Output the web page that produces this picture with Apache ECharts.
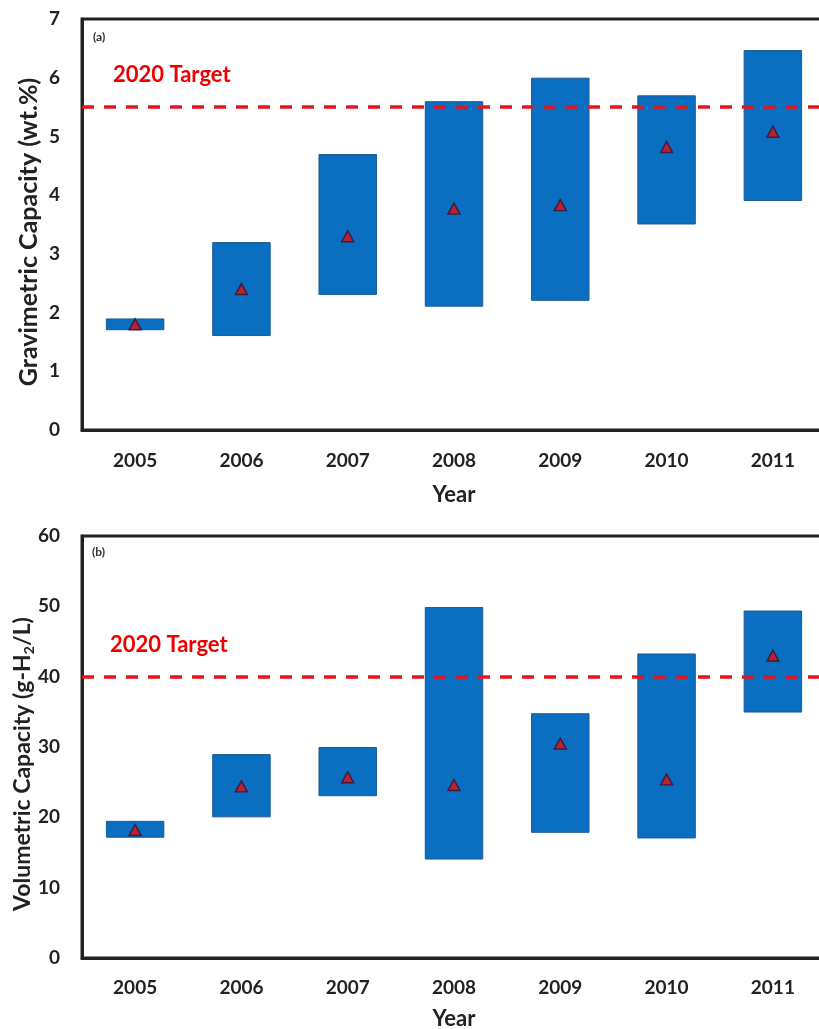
<!DOCTYPE html>
<html><head><meta charset="utf-8">
<script src="https://cdn.jsdelivr.net/npm/echarts@6/dist/echarts.min.js"></script>
<style>html,body{margin:0;padding:0;background:#fff}#c{width:819px;height:1029px}</style>
</head><body><div id="c"></div>
<script>
const years = ['2005','2006','2007','2008','2009','2010','2011'];
const gravLow  = [1.7, 1.6, 2.3, 2.1, 2.2, 3.5, 3.9];
const gravHigh = [1.9, 3.2, 4.7, 5.6, 6.0, 5.7, 6.47];
const gravMid  = [1.8, 2.4, 3.3, 3.77, 3.83, 4.82, 5.08];
const gravTarget = 5.5;
const volLow  = [17.1, 20.0, 23.0, 14.0, 17.8, 17.0, 34.9];
const volHigh = [19.5, 29.0, 30.0, 49.9, 34.8, 43.3, 49.4];
const volMid  = [18.2, 24.4, 25.7, 24.6, 30.5, 25.4, 43.0];
const volTarget = 40;

const FONT = 'Lato';
const BLUE = '#0a6fc0';
const chart = echarts.init(document.getElementById('c'));

function floating(low, high, xi, yi, stackName, target) {
  return [
    {type:'bar', xAxisIndex:xi, yAxisIndex:yi, stack:stackName, barWidth:'55%',
     itemStyle:{color:'transparent'}, data: low, silent:true},
    {type:'bar', xAxisIndex:xi, yAxisIndex:yi, stack:stackName, barWidth:'55%',
     itemStyle:{color:BLUE, borderColor:'#1a5a96', borderWidth:1},
     data: high.map((h,i)=> +(h-low[i]).toFixed(3)),
     markLine:{symbol:'none', silent:true, label:{show:false},
       lineStyle:{color:'#e8141c', type:[12,10], width:3.5},
       data:[{yAxis:target}]}}
  ];
}
function mids(vals, xi, yi) {
  return {type:'scatter', xAxisIndex:xi, yAxisIndex:yi, symbol:'triangle', symbolSize:[12,11],
    itemStyle:{color:'#e01010', borderColor:'#3a1030', borderWidth:1.5}, data: vals, z:5};
}
const axisLbl = {fontFamily:FONT, fontWeight:'bold', fontSize:19, color:'#222'};
function xAx(gi, margin, gap){
  return {type:'category', gridIndex:gi, data:years, axisTick:{show:false},
    axisLine:{lineStyle:{color:'#222', width:3}},
    axisLabel:Object.assign({margin:margin}, axisLbl),
    name:'Year', nameLocation:'middle', nameGap:gap,
    nameTextStyle:{fontFamily:FONT, fontWeight:'bold', fontSize:22, color:'#222'}};
}
function yAx(gi, max, interval){
  return {type:'value', gridIndex:gi, min:0, max:max, interval:interval,
    splitLine:{show:false}, axisTick:{show:false},
    axisLine:{show:true, lineStyle:{color:'#222', width:3}},
    axisLabel:Object.assign({margin:22}, axisLbl)};
}
function yName(text, cx, cy, fs){
  return {type:'text', x:cx, y:cy, rotation:Math.PI/2,
    style:{text:text, fontFamily:FONT, fontWeight:'bold', fontSize:fs, fill:'#222',
      align:'center', verticalAlign:'middle',
      rich:{sub:{fontFamily:FONT, fontWeight:'bold', fontSize:14, fill:'#222', padding:[12,0,0,0]}}}};
}
chart.setOption({
  animation:false,
  backgroundColor:'#fff',
  grid:[
    {left:82, top:19, width:744, height:411, show:true, borderColor:'#222', borderWidth:3, outerBoundsMode:'none'},
    {left:82, top:536, width:744, height:422, show:true, borderColor:'#222', borderWidth:3, outerBoundsMode:'none'}
  ],
  xAxis:[xAx(0, 21, 54), xAx(1, 20, 50)],
  yAxis:[yAx(0, 7, 1), yAx(1, 60, 10)],
  graphic:[
    yName('Gravimetric Capacity (wt.%)', 29, 232, 25),
    yName('Volumetric Capacity (g-H{sub|2}/L)', 23, 764, 23),
    {type:'text', left:113, top:64, style:{text:'2020 Target', fontFamily:FONT, fontWeight:'bold', fontSize:22, fill:'#ee0000'}},
    {type:'text', left:110, top:634, style:{text:'2020 Target', fontFamily:FONT, fontWeight:'bold', fontSize:22, fill:'#ee0000'}},
    {type:'text', left:93, top:31, style:{text:'(a)', fontFamily:FONT, fontWeight:'bold', fontSize:12, fill:'#333'}},
    {type:'text', left:92, top:546, style:{text:'(b)', fontFamily:FONT, fontWeight:'bold', fontSize:12, fill:'#333'}}
  ],
  series:[
    ...floating(gravLow, gravHigh, 0, 0, 'g', gravTarget),
    mids(gravMid, 0, 0),
    ...floating(volLow, volHigh, 1, 1, 'v', volTarget),
    mids(volMid, 1, 1)
  ]
});
</script></body></html>
